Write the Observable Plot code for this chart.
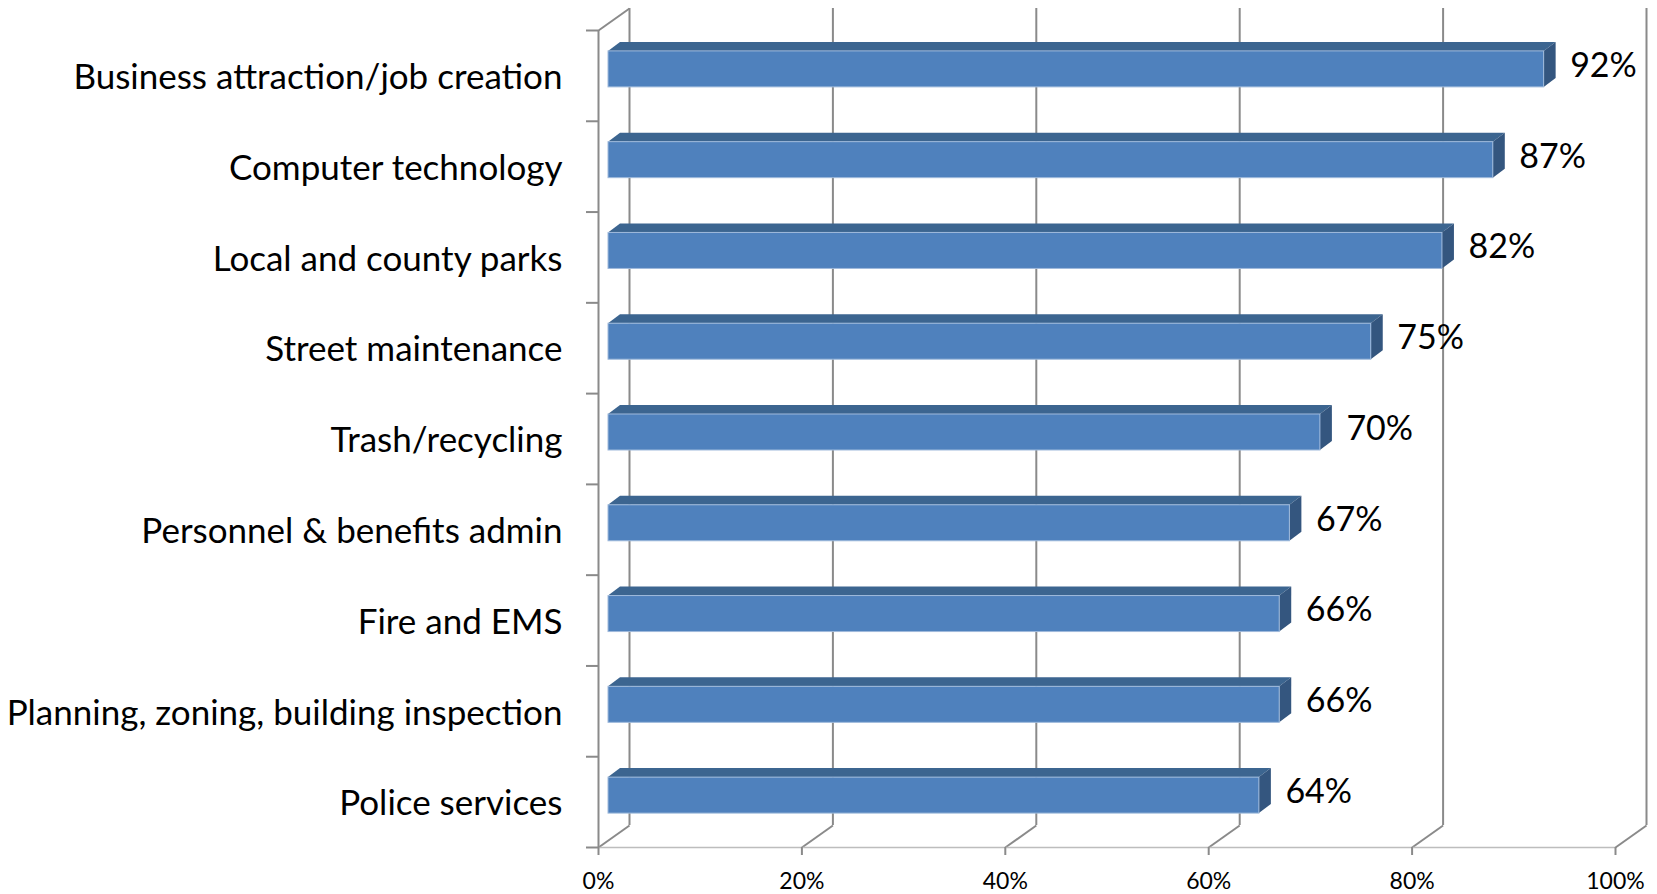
<!DOCTYPE html>
<html>
<head>
<meta charset="utf-8">
<script src="https://cdn.jsdelivr.net/npm/d3@7"></script>
<script src="https://cdn.jsdelivr.net/npm/@observablehq/plot@0.6"></script>
<style>
  html, body { margin: 0; padding: 0; background: #fff; }
  #chart svg { display: block; }
</style>
</head>
<body>
<div id="chart"></div>
<script>
// ---- data ----
const categories = [
  "Business attraction/job creation",
  "Computer technology",
  "Local and county parks",
  "Street maintenance",
  "Trash/recycling",
  "Personnel & benefits admin",
  "Fire and EMS",
  "Planning, zoning, building inspection",
  "Police services"
];
const values = [92, 87, 82, 75, 70, 67, 66, 66, 64];
const xTicks = [0, 20, 40, 60, 80, 100];

// ---- layout ----
const W = 1657, H = 894;
const mL = 598, mR = 42, mT = 30, mB = 47;
const n = categories.length;
const kx = (W - mL - mR) / 100;      // px per percent
const ky = (H - mT - mB) / n;        // px per category band
// 3D depth (pixels)
const WALL_DX = 31, WALL_DY = 22;
const BAR_OFF_DX = 10, BAR_OFF_DY = 6.5;
const BAR_DX = 12, BAR_DY = 9;
const BAR_H = 36;

const hh = BAR_H / ky / 2;
const ddx = BAR_DX / kx, ddy = BAR_DY / ky;
const wdx = WALL_DX / kx, wdy = WALL_DY / ky;

const rows = categories.map((c, i) => ({cat: c, i, v: values[i], top: i + 0.5 - hh, bot: i + 0.5 + hh}));
const topFace = rows.flatMap(r => [
  {i: r.i, y: r.top, x1: 0, x2: r.v},
  {i: r.i, y: r.top - ddy, x1: ddx, x2: r.v + ddx}
]);
const sideFace = rows.flatMap(r => [
  {i: r.i, x: r.v, y1: r.top, y2: r.bot},
  {i: r.i, x: r.v + ddx, y1: r.top - ddy, y2: r.bot - ddy}
]);

const grid = "#8a8a8a";

const chart = Plot.plot({
  width: W,
  height: H,
  marginLeft: mL, marginRight: mR, marginTop: mT, marginBottom: mB,
  style: {fontFamily: "Lato, 'Open Sans', sans-serif", background: "#fff", color: "#000"},
  x: {domain: [0, 100], range: [mL, W - mR]},
  y: {domain: [0, n], range: [mT, H - mB]},
  marks: [
    // back wall gridlines
    Plot.ruleX(xTicks, {y1: 0, y2: n, dx: WALL_DX, dy: -WALL_DY, stroke: grid, strokeWidth: 2}),
    // floor diagonals
    Plot.link(xTicks, {x1: d => d, y1: n, x2: d => d + wdx, y2: n - wdy, stroke: grid, strokeWidth: 2}),
    // left wall top diagonal
    Plot.link([0], {x1: 0, y1: 0, x2: wdx, y2: -wdy, stroke: grid, strokeWidth: 2}),
    // floor front edge
    Plot.ruleY([n], {x1: 0, x2: 100, stroke: "#bdbdbd", strokeWidth: 1.5}),
    // front category axis line
    Plot.ruleX([0], {y1: 0, y2: n, stroke: grid, strokeWidth: 2}),
    // bars: top, side, front
    Plot.areaX(topFace, {y: "y", x1: "x1", x2: "x2", z: "i", fill: "#3C6590", curve: "linear", dx: BAR_OFF_DX, dy: -BAR_OFF_DY}),
    Plot.areaY(sideFace, {x: "x", y1: "y1", y2: "y2", z: "i", fill: "#34567F", curve: "linear", dx: BAR_OFF_DX, dy: -BAR_OFF_DY}),
    Plot.rect(rows, {x1: 0, x2: "v", y1: "top", y2: "bot", fill: "#4F81BD", stroke: "#9fbadc", strokeWidth: 1, dx: BAR_OFF_DX, dy: -BAR_OFF_DY}),
    // value labels
    Plot.text(rows, {x: "v", y: r => r.i + 0.5, text: r => r.v + "%", textAnchor: "start", dx: 36, dy: -10, fontSize: 34, fill: "#000"}),
    // axes
    Plot.axisX(xTicks, {anchor: "bottom", tickSize: 8, tickPadding: 17, tickFormat: d => d + "%", fontSize: 23, stroke: grid, strokeWidth: 2, fill: "#000"}),
    Plot.axisY(d3.range(n + 1), {anchor: "left", tickSize: 12, tickFormat: () => "", stroke: grid, strokeWidth: 2}),
    Plot.axisY(d3.range(n).map(i => i + 0.5), {anchor: "left", tickSize: 0, tickPadding: 36, dy: 2, tickFormat: d => categories[Math.floor(d)], fontSize: 35, fill: "#000"})
  ]
});
document.getElementById("chart").appendChild(chart);
</script>
</body>
</html>
